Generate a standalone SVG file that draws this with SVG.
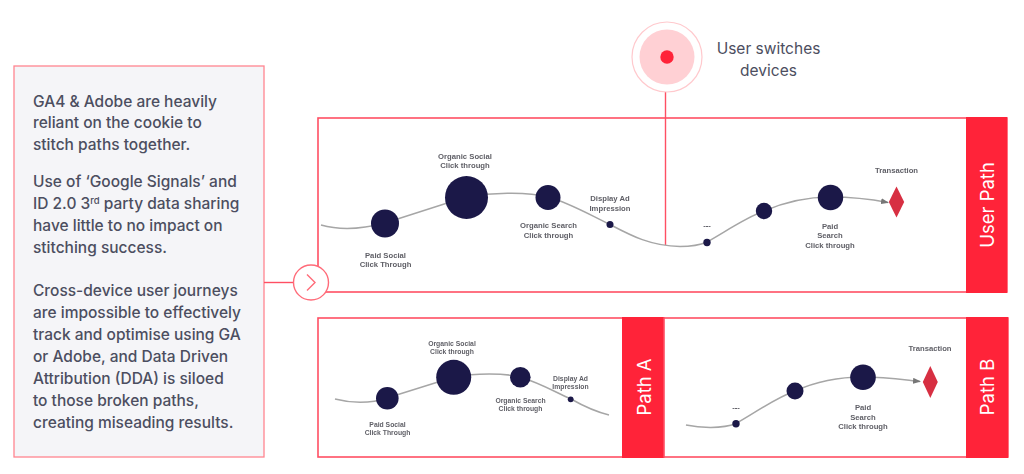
<svg xmlns="http://www.w3.org/2000/svg" width="1024" height="474" viewBox="0 0 1024 474">
<style>
.box{fill:#fff;stroke:#ff4f63;stroke-width:1.6}
.band{fill:#ff2339}
.body{font-family:Inter,"Liberation Sans",sans-serif;font-size:15.5px;font-weight:500;fill:#4c4e60}
.sup{font-size:9.5px}
.band-t{font-family:Inter,"Liberation Sans",sans-serif;font-size:18.500px;fill:#fff;text-anchor:middle}
.lab{font-family:"Liberation Sans",Arial,sans-serif;font-weight:700;fill:#5f5f66;text-anchor:middle;filter:url(#soft)}
.l1{font-size:7.7px}.l2{font-size:6.8px}
.curve{fill:none;stroke:#a6a6a6;stroke-width:1.5}
.dot{fill:#1b1848}
.dia{fill:#d72f42}
.ln{fill:none;stroke:#ff4f63;stroke-width:1.4}
</style>
<defs>
<filter id="soft" x="-10%" y="-20%" width="120%" height="140%"><feGaussianBlur stdDeviation="0.3"/></filter>
<marker id="ah" markerWidth="8" markerHeight="6" refX="7" refY="3" orient="auto" markerUnits="userSpaceOnUse"><path d="M0 0L8 3L0 6Z" fill="#777"/></marker>
</defs>
<rect width="1024" height="474" fill="#fff"/>

<g id="info-panel">
<rect x="14" y="66" width="250" height="391" fill="#f5f5f8" stroke="#ff8590" stroke-width="1.3"/>
<text class="body" x="33" y="106.500">GA4 &amp; Adobe are heavily</text>
<text class="body" x="33" y="128">reliant on the cookie to</text>
<text class="body" x="33" y="150">stitch paths together.</text>
<text class="body" x="33" y="187">Use of ‘Google Signals’ and</text>
<text class="body" x="33" y="209">ID 2.0 3<tspan class="sup" dy="-5">rd</tspan><tspan dy="5"> party data sharing</tspan></text>
<text class="body" x="33" y="231">have little to no impact on</text>
<text class="body" x="33" y="253">stitching success.</text>
<text class="body" x="33" y="296">Cross-device user journeys</text>
<text class="body" x="33" y="318">are impossible to effectively</text>
<text class="body" x="33" y="340">track and optimise using GA</text>
<text class="body" x="33" y="362">or Adobe, and Data Driven</text>
<text class="body" x="33" y="384">Attribution (DDA) is siloed</text>
<text class="body" x="33" y="406">to those broken paths,</text>
<text class="body" x="33" y="428">creating miseading results.</text>
</g>

<g id="user-path">
<rect class="box" x="318" y="118" width="689" height="174"/>
<rect class="band" x="966" y="117" width="41" height="176"/>
<text class="band-t" transform="translate(994 205) rotate(-90)">User Path</text>
</g>
<g id="path-a">
<rect class="box" x="318" y="318" width="346" height="139"/>
<rect class="band" x="622" y="317" width="42" height="141"/>
<text class="band-t" transform="translate(651 387) rotate(-90)">Path A</text>
</g>
<g id="path-b">
<rect class="box" x="664" y="318" width="344" height="139"/>
<rect class="band" x="966" y="317" width="42" height="141"/>
<text class="band-t" transform="translate(994 387) rotate(-90)">Path B</text>
</g>

<g id="connectors">
<path class="ln" d="M264 282.500H293"/>
<path class="ln" d="M665.500 92V245"/>
<path class="curve" d="M321 225C335 229 355 231 385 223L466 197C490 193 525 191 548 197C570 203 590 215 610 224.500C630 235 650 246 680 246.500C690 246.500 700 245 707 242C725 232 745 218 764 211C785 202 810 197 830 197C850 197 870 199 888 202.500" marker-end="url(#ah)"/>
<path class="curve" d="M335 399C350 403 370 404 387 398L454 377C475 373 505 373 520 377C540 383 555 392 571 399C585 407 597 412 609 415"/>
<path class="curve" d="M686 425C700 428 722 429 736 423.500C755 413 775 398 795 391C815 382 840 377 863 377C885 377 905 380 920 381.500" marker-end="url(#ah)"/>
</g>

<g id="nav-button">
<circle cx="311" cy="282.500" r="17.500" fill="#fff" stroke="#ff6b79" stroke-width="1.4"/>
<path d="M307 274.500L315 282.500L307 290.500" fill="none" stroke="#ff6b79" stroke-width="1.4"/>
</g>

<g id="switch-marker">
<circle cx="667" cy="57" r="35" fill="#fff" stroke="#ffc9cd" stroke-width="1.2"/>
<circle cx="667" cy="57" r="27.500" fill="#ffd0d4"/>
<circle cx="667" cy="57" r="6.700" fill="#ff2339"/>
<text x="768.500" y="54" font-family="Inter,'Liberation Sans',sans-serif" font-size="15.500" fill="#4c4e60" text-anchor="middle">User switches</text>
<text x="768.500" y="76" font-family="Inter,'Liberation Sans',sans-serif" font-size="15.500" fill="#4c4e60" text-anchor="middle">devices</text>
</g>

<g id="user-path-nodes">
<circle class="dot" cx="385" cy="223.500" r="14"/>
<circle class="dot" cx="466.500" cy="197.500" r="21.500"/>
<circle class="dot" cx="548" cy="197.500" r="12.500"/>
<circle class="dot" cx="610" cy="224.500" r="3.500"/>
<circle class="dot" cx="707" cy="242.500" r="3.700"/>
<circle class="dot" cx="764" cy="211" r="8.200"/>
<circle class="dot" cx="830.500" cy="197.500" r="12.700"/>
<path class="dia" d="M896.500 186.500L904.200 202L896.500 217.500L888.800 202Z"/>
<text class="lab l1" x="465" y="158.500">Organic Social</text>
<text class="lab l1" x="465" y="168">Click through</text>
<text class="lab l1" x="385.500" y="257.500">Paid Social</text>
<text class="lab l1" x="385.500" y="267">Click Through</text>
<text class="lab l1" x="548.500" y="228">Organic Search</text>
<text class="lab l1" x="548.500" y="237.500">Click through</text>
<text class="lab l1" x="610" y="201">Display Ad</text>
<text class="lab l1" x="610" y="210.500">Impression</text>
<text class="lab l1" x="707" y="228">---</text>
<text class="lab l1" x="830" y="228.500">Paid</text>
<text class="lab l1" x="830" y="238">Search</text>
<text class="lab l1" x="830" y="247.500">Click through</text>
<text class="lab l1" x="896.500" y="172.500">Transaction</text>
</g>

<g id="path-a-nodes">
<circle class="dot" cx="387.300" cy="398.300" r="11.300"/>
<circle class="dot" cx="453.700" cy="377.300" r="17.500"/>
<circle class="dot" cx="520.300" cy="377.300" r="10.300"/>
<circle class="dot" cx="570.700" cy="399.300" r="2.900"/>
<text class="lab l2" x="452" y="345.500">Organic Social</text>
<text class="lab l2" x="452" y="353.500">Click through</text>
<text class="lab l2" x="387.500" y="426.500">Paid Social</text>
<text class="lab l2" x="387.500" y="434.500">Click Through</text>
<text class="lab l2" x="520.500" y="402.500">Organic Search</text>
<text class="lab l2" x="520.500" y="410.500">Click through</text>
<text class="lab l2" x="570.500" y="380.500">Display Ad</text>
<text class="lab l2" x="570.500" y="388.500">Impression</text>
</g>

<g id="path-b-nodes">
<circle class="dot" cx="736" cy="423.700" r="3.700"/>
<circle class="dot" cx="795" cy="391" r="8.500"/>
<circle class="dot" cx="863" cy="377.300" r="12.800"/>
<path class="dia" d="M930.300 366L937.800 382L930.300 398L922.800 382Z"/>
<text class="lab l1" x="736" y="409.500">---</text>
<text class="lab l1" x="863" y="409.500">Paid</text>
<text class="lab l1" x="863" y="419.500">Search</text>
<text class="lab l1" x="863" y="429">Click through</text>
<text class="lab l1" x="930" y="351">Transaction</text>
</g>
</svg>
